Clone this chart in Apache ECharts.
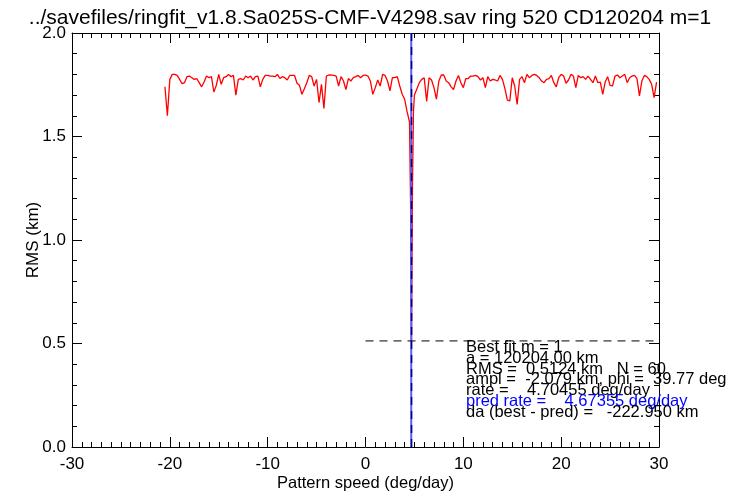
<!DOCTYPE html>
<html>
<head>
<meta charset="utf-8">
<script src="https://cdn.jsdelivr.net/npm/echarts@6/dist/echarts.min.js"></script>
<style>
html,body{margin:0;padding:0;background:#fff;}
#chart{width:740px;height:495px;}
</style>
</head>
<body>
<div id="chart"></div>
<script>
// ---- data ----
var titleText = '../savefiles/ringfit_v1.8.Sa025S-CMF-V4298.sav ring 520 CD120204 m=1';
var xAxisName = 'Pattern speed (deg/day)';
var yAxisName = 'RMS (km)';
var xTicks = [-30, -20, -10, 0, 10, 20, 30];
var yTicks = ['0.0', '0.5', '1.0', '1.5', '2.0'];

var speeds = [
 -20.5,-20.25,-20.0,-19.75,-19.5,-19.25,-19.0,-18.75,-18.5,-18.25,-18.0,-17.75,-17.5,-17.25,-17.0,-16.75,-16.5,-16.25,-16.0,-15.75,
 -15.5,-15.25,-15.0,-14.75,-14.5,-14.25,-14.0,-13.75,-13.5,-13.25,-13.0,-12.75,-12.5,-12.25,-12.0,-11.75,-11.5,-11.25,-11.0,
 -10.75,-10.5,-10.25,-10.0,-9.75,-9.5,-9.25,-9.0,-8.75,-8.5,-8.25,-8.0,-7.75,-7.5,-7.25,-7.0,-6.75,-6.5,-6.25,-6.0,-5.75,
 -5.5,-5.25,-5.0,-4.75,-4.5,-4.25,-4.0,-3.75,-3.5,-3.25,-3.0,-2.75,-2.5,-2.25,-2.0,-1.75,-1.5,-1.25,-1.0,
 -0.75,-0.5,-0.25,0.0,0.25,0.5,0.75,1.0,1.25,1.5,1.75,2.0,2.25,2.5,2.75,3.0,3.25,3.5,3.75,4.0,4.25,4.5,4.6,4.70455,4.8,4.9,
 5.0,5.25,5.5,5.75,6.0,6.25,6.5,6.75,7.0,7.25,7.5,7.75,8.0,8.25,8.5,8.75,9.0,
 9.25,9.5,9.75,10.0,10.25,10.5,10.75,11.0,11.25,11.5,11.75,12.0,12.25,12.5,12.75,13.0,13.25,13.5,13.75,14.0,
 14.25,14.5,14.75,15.0,15.25,15.5,15.75,16.0,16.25,16.5,16.75,17.0,17.25,17.5,17.75,18.0,18.25,18.5,18.75,19.0,
 19.25,19.5,19.75,20.0,20.25,20.5,20.75,21.0,21.25,21.5,21.75,22.0,22.25,22.5,22.75,23.0,23.25,23.5,23.75,24.0,
 24.25,24.5,24.75,25.0,25.25,25.5,25.75,26.0,26.25,26.5,26.75,27.0,27.25,27.5,27.75,28.0,28.25,28.5,28.75,29.0,
 29.25,29.5,29.75
];
var rms = [
 1.74,1.60,1.776,1.80,1.80,1.795,1.776,1.755,1.76,1.789,1.792,1.784,1.776,1.78,1.76,1.74,1.763,1.792,1.784,1.789,
 1.715,1.747,1.80,1.752,1.784,1.789,1.80,1.789,1.795,1.70,1.776,1.78,1.773,1.792,1.784,1.792,1.773,1.789,1.792,
 1.74,1.776,1.795,1.795,1.792,1.792,1.789,1.80,1.78,1.789,1.784,1.773,1.795,1.795,1.795,1.757,1.747,1.704,1.731,1.76,1.795,
 1.789,1.744,1.776,1.664,1.752,1.635,1.792,1.797,1.797,1.795,1.792,1.744,1.789,1.768,1.727,1.78,1.768,1.784,1.789,
 1.795,1.784,1.795,1.797,1.792,1.768,1.704,1.736,1.773,1.744,1.80,1.795,1.768,1.72,1.784,1.784,1.789,1.744,1.704,1.68,1.62,1.57,1.2,0.5124,1.25,1.62,
 1.70,1.73,1.76,1.776,1.784,1.67,1.784,1.773,1.736,1.68,1.768,1.797,1.797,1.768,1.76,1.74,1.727,
 1.768,1.795,1.76,1.736,1.78,1.78,1.792,1.792,1.795,1.789,1.773,1.784,1.736,1.789,1.768,1.776,1.773,1.768,1.795,1.776,
 1.731,1.676,1.672,1.784,1.744,1.655,1.776,1.789,1.76,1.80,1.784,1.795,1.80,1.795,1.784,1.768,1.76,1.776,1.78,1.795,
 1.76,1.74,1.784,1.80,1.792,1.757,1.773,1.80,1.792,1.736,1.795,1.784,1.789,1.776,1.792,1.776,1.76,1.792,1.76,1.763,
 1.704,1.763,1.789,1.747,1.744,1.792,1.797,1.784,1.792,1.80,1.76,1.784,1.792,1.795,1.78,1.696,1.768,1.795,1.789,1.776,
 1.752,1.688,1.763
];
var bestRate = 4.70455;
var predRate = 4.67355;
var bestRms = 0.5124;
var infoLines = [
 'Best fit m = 1',
 'a = 120204.00 km',
 'RMS =  0.5124 km   N = 60',
 'ampl =  -2.079 km, phi =  39.77 deg',
 'rate =    4.70455 deg/day',
 'pred rate =    4.67355 deg/day',
 'da (best - pred) =   -222.950 km'
];
var infoColors = ['#000','#000','#000','#000','#000','#0000ff','#000'];

// ---- chart ----
var lineData = speeds.map(function (s, i) { return [s, rms[i]]; });
var FONT = '"Liberation Sans", Arial, Helvetica, sans-serif';
var chart = echarts.init(document.getElementById('chart'), null, {renderer: 'canvas'});

var tickCommon = {show: true, inside: true, length: 10, lineStyle: {color: '#000', width: 1}};
var minorCommon = {show: true, length: 5, lineStyle: {color: '#000', width: 1}};
var axisLineCommon = {show: true, onZero: false, lineStyle: {color: '#000', width: 1}};

var graphics = infoLines.map(function (t, i) {
  return {
    type: 'text', left: 466, top: 339 + i * 10.8, z: 100,
    style: {text: t, fill: infoColors[i], font: '16.5px ' + FONT}
  };
});

chart.setOption({
  animation: false,
  backgroundColor: '#fff',
  title: {
    text: titleText, left: 'center', top: 3,
    textStyle: {fontFamily: FONT, fontSize: 21, fontWeight: 'normal', color: '#000'}
  },
  grid: {left: 72, right: 81, top: 33, bottom: 48, containLabel: false, outerBoundsMode: 'none'},
  xAxis: [{
    type: 'value', min: -30, max: 30, interval: 10, position: 'bottom',
    name: xAxisName, nameLocation: 'middle', nameGap: 28, nameMoveOverlap: false,
    nameTextStyle: {fontFamily: FONT, fontSize: 16.5, color: '#000'},
    axisLine: axisLineCommon, axisTick: tickCommon,
    minorTick: Object.assign({splitNumber: 10}, minorCommon),
    axisLabel: {fontFamily: FONT, fontSize: 17, color: '#000', margin: 9,
      formatter: function (v) { return xTicks.indexOf(v) >= 0 ? String(v) : ''; }},
    splitLine: {show: false}
  }, {
    type: 'value', min: -30, max: 30, interval: 10, position: 'top',
    axisLine: axisLineCommon, axisTick: tickCommon,
    minorTick: Object.assign({splitNumber: 10}, minorCommon),
    axisLabel: {show: false}, splitLine: {show: false}
  }],
  yAxis: [{
    type: 'value', min: 0, max: 2, interval: 0.5, position: 'left',
    name: yAxisName, nameLocation: 'middle', nameGap: 30, nameMoveOverlap: false,
    nameTextStyle: {fontFamily: FONT, fontSize: 17, color: '#000'},
    axisLine: axisLineCommon, axisTick: tickCommon,
    minorTick: Object.assign({splitNumber: 5}, minorCommon),
    axisLabel: {fontFamily: FONT, fontSize: 17, color: '#000', margin: 6,
      formatter: function (v) { return yTicks[Math.round(v / 0.5)]; }},
    splitLine: {show: false}
  }, {
    type: 'value', min: 0, max: 2, interval: 0.5, position: 'right',
    axisLine: axisLineCommon, axisTick: tickCommon,
    minorTick: Object.assign({splitNumber: 5}, minorCommon),
    axisLabel: {show: false}, splitLine: {show: false}
  }],
  series: [{
    type: 'line', data: lineData, showSymbol: false, symbol: 'none',
    lineStyle: {color: '#ff0000', width: 1.3}, z: 3
  }, {
    type: 'line', data: [[predRate, 0], [predRate, 2]], symbol: 'none',
    lineStyle: {color: '#5b5bff', width: 2}, z: 4
  }, {
    type: 'line', data: [[bestRate, 0], [bestRate, 2]], symbol: 'none',
    lineStyle: {color: '#000080', width: 1.5, type: [8, 6]}, z: 5
  }, {
    type: 'line', data: [[0, bestRms], [30, bestRms]], symbol: 'none',
    lineStyle: {color: '#000', width: 1, type: [8, 6]}, z: 5
  }],
  graphic: graphics
});
</script>
</body>
</html>
